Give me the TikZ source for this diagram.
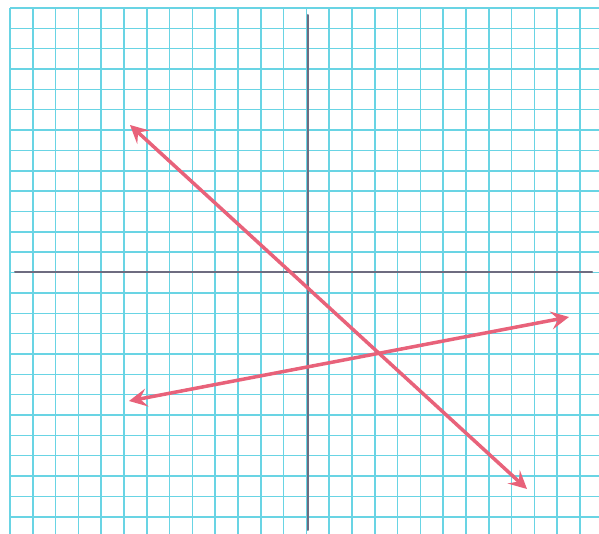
\documentclass[tikz,border=0pt]{standalone}
\usetikzlibrary{arrows.meta}
\definecolor{gridcyan}{RGB}{105,212,228}
\definecolor{axisgray}{RGB}{110,108,128}
\definecolor{linered}{RGB}{232,98,122}
\tikzset{
  gridline/.style={gridcyan, line width=1.5pt},
  axisline/.style={axisgray, line width=2pt, line cap=round},
  graphline/.style={linered, line width=3.5pt, {Stealth[length=18pt,width=18pt,inset=7pt]}-{Stealth[length=18pt,width=18pt,inset=7pt]}}
}
\begin{document}
\begin{tikzpicture}[x=1pt,y=-1pt]
\useasboundingbox (0,0) rectangle (599,534);
\fill[white] (0,0) rectangle (599,534);
% grid
\foreach \k in {0,...,26} {
  \draw[gridline] ({10+22.8*\k},8) -- ({10+22.8*\k},534);
}
\foreach \k in {0,...,26} {
  \draw[gridline] (10,{8+20.35*\k}) -- (599,{8+20.35*\k});
}
% axes
\coordinate (yt) at (308,15);
\coordinate (yb) at (308,530);
\coordinate (xl) at (15,272);
\coordinate (xr) at (592,272);
\draw[axisline] (yb) -- (yt);
\draw[axisline] (xl) -- (xr);
% lines
\coordinate (p1) at (130,125);
\coordinate (p2) at (527,489);
\coordinate (q1) at (129,401);
\coordinate (q2) at (569,317);
\draw[graphline] (p1) -- (p2);
\draw[graphline] (q1) -- (q2);
\end{tikzpicture}
\end{document}
